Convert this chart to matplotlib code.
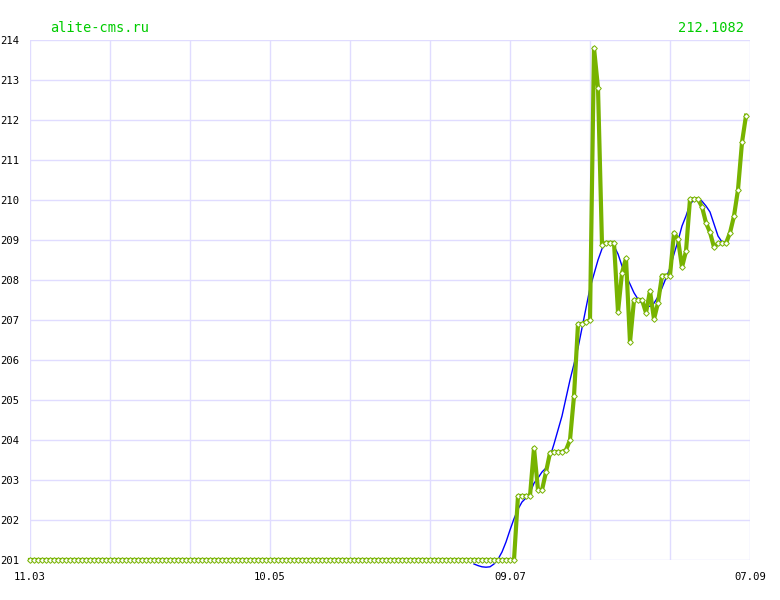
import matplotlib
matplotlib.use("Agg")
import matplotlib.pyplot as plt
import numpy as np

site_label = "alite-cms.ru"
last_label = "212.1082"

x_tick_days = [0, 60, 120, 180]
x_tick_labels = ["11.03", "10.05", "09.07", "07.09"]
y_ticks = list(range(201, 215))

# daily values (day index 0 = 11.03)
flat_values = [201.0] * 122
rise_values = [
    202.6, 202.6, 202.6, 202.6, 203.8, 202.75, 202.75, 203.2, 203.68, 203.7,
    203.7, 203.7, 203.75, 204.0, 205.1, 206.9, 206.9, 206.95, 207.0, 213.8,
    212.8, 208.88, 208.93, 208.93, 208.93, 207.2, 208.18, 208.54, 206.44, 207.5,
    207.5, 207.5, 207.18, 207.73, 207.02, 207.43, 208.11, 208.11, 208.11, 209.18,
    209.02, 208.32, 208.72, 210.02, 210.02, 210.02, 209.83, 209.43, 209.19, 208.82,
    208.92, 208.92, 208.92, 209.18, 209.6, 210.26, 211.44, 212.1082,
]
values = flat_values + rise_values
days = list(range(len(values)))

# smoothed trend (blue), starting at day 111
trend_start = 111
trend_values = [
    200.9, 200.86, 200.83, 200.82, 200.83, 200.9, 201.02, 201.2, 201.45, 201.75,
    202.03, 202.27, 202.45, 202.55, 202.68, 202.92, 203.05, 203.2, 203.3, 203.58,
    203.9, 204.25, 204.6, 205.05, 205.5, 205.9, 206.3, 206.8, 207.3, 207.8,
    208.15, 208.5, 208.78, 208.9, 208.93, 208.85, 208.65, 208.35, 208.1, 207.9,
    207.68, 207.52, 207.42, 207.36, 207.34, 207.42, 207.58, 207.8, 208.05, 208.3,
    208.65, 208.98, 209.35, 209.6, 209.9, 210.0, 210.03, 209.97, 209.85, 209.7,
    209.4, 209.1, 208.95,
]
trend_days = list(range(trend_start, trend_start + len(trend_values)))

W, H = 780, 600
fig = plt.figure(figsize=(W / 100, H / 100), dpi=100)
ax = fig.add_axes([30 / W, 40 / H, 720 / W, 520 / H])
ax.set_xlim(0, 180)
ax.set_ylim(201, 214)

grid_color = "#e0dcff"
for d in range(0, 181, 20):
    ax.axvline(d, color=grid_color, lw=1.0, zorder=0)
for v in y_ticks:
    ax.axhline(v, color=grid_color, lw=1.0, zorder=0)
for s in ax.spines.values():
    s.set_visible(False)

ax.plot(trend_days, trend_values, color="#0000ff", lw=1.0, zorder=2, clip_on=False)
ax.plot(days, values, color="#77b300", lw=3.0, zorder=3, clip_on=False,
        marker="D", markersize=2.9, markerfacecolor="white",
        markeredgecolor="#77b300", markeredgewidth=0.7)

mono = "DejaVu Sans Mono"
ax.set_xticks(x_tick_days)
ax.set_xticklabels(x_tick_labels, family=mono, fontsize=7.6)
ax.set_yticks(y_ticks)
ax.set_yticklabels([str(v) for v in y_ticks], family=mono, fontsize=7.6, ha="left")
ax.tick_params(axis="y", length=0, pad=30 * 0.72)
ax.tick_params(axis="x", length=0, pad=12 * 0.72)

fig.text(50 / W, 1 - 28 / H, site_label, color="#00cc00", family=mono,
         fontsize=9.8, ha="left", va="center")
fig.text(744 / W, 1 - 28 / H, last_label, color="#00cc00", family=mono,
         fontsize=9.8, ha="right", va="center")

fig.savefig("out.png", dpi=100, facecolor="white")
